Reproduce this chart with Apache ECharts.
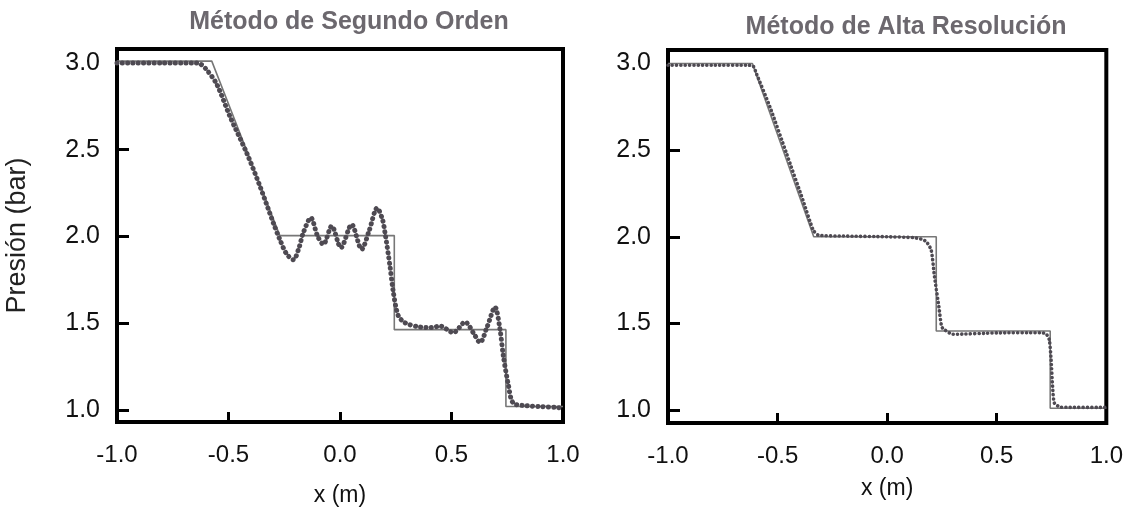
<!DOCTYPE html>
<html>
<head>
<meta charset="utf-8">
<script src="https://cdn.jsdelivr.net/npm/echarts@6/dist/echarts.min.js"></script>
<style>
  html, body { margin: 0; padding: 0; background: #fff; }
  #chart { width: 1126px; height: 512px; }
</style>
</head>
<body>
<div id="chart"></div>
<script>
// panel titles
var titles = ['Método de Segundo Orden', 'Método de Alta Resolución'];
var yTicks = [1.0, 1.5, 2.0, 2.5, 3.0];

// solucion exacta (linea continua)
var exactLeftX  = [-1.0, -0.575, -0.27, 0.2435, 0.2435, 0.744, 0.744, 1.0];
var exactLeftY  = [3.01, 3.01, 2.005, 2.005, 1.463, 1.463, 1.02, 1.02];
var exactRightX = [-1.0, -0.615, -0.335, 0.224, 0.224, 0.744, 0.744, 1.0];
var exactRightY = [3.0, 3.0, 2.0, 2.0, 1.456, 1.456, 1.01, 1.01];

// metodo de segundo orden (puntos)
var segundoX = [-1.0, -0.8, -0.66, -0.628, -0.598, -0.553, -0.493, -0.418, -0.359, -0.299, -0.269, -0.24,
  -0.209, -0.185, -0.165, -0.131, -0.1, -0.075, -0.037, 0.004, 0.052, 0.097, 0.13, 0.167, 0.19, 0.202,
  0.224, 0.239, 0.261, 0.291, 0.359, 0.41, 0.448, 0.508, 0.561, 0.6, 0.628, 0.66, 0.695, 0.717, 0.732,
  0.755, 0.777, 0.837, 0.9, 0.972, 1.0];
var segundoY = [3.0, 3.0, 3.0, 2.995, 2.96, 2.878, 2.69, 2.48, 2.29, 2.078, 1.98, 1.9,
  1.866, 1.93, 2.02, 2.107, 2.0, 1.954, 2.06, 1.935, 2.069, 1.926, 2.03, 2.164, 2.1, 2.02,
  1.83, 1.68, 1.545, 1.503, 1.478, 1.475, 1.484, 1.446, 1.507, 1.44, 1.389, 1.48, 1.593, 1.469, 1.316,
  1.145, 1.04, 1.025, 1.02, 1.015, 1.01];

// metodo de alta resolucion (puntos)
var altaX = [-1.0, -0.8, -0.63, -0.611, -0.596, -0.535, -0.459, -0.384, -0.338, -0.315, -0.2, 0.0,
  0.12, 0.16, 0.179, 0.201, 0.216, 0.236, 0.247, 0.254, 0.3, 0.5, 0.7, 0.725, 0.74, 0.748, 0.755,
  0.763, 0.793, 1.0];
var altaY = [2.99, 2.99, 2.99, 2.985, 2.94, 2.75, 2.48, 2.21, 2.04, 2.01, 2.004, 2.0,
  1.995, 1.985, 1.971, 1.923, 1.77, 1.596, 1.49, 1.471, 1.437, 1.445, 1.446, 1.44, 1.404, 1.29, 1.134,
  1.04, 1.016, 1.015];

function zip(xs, ys) {
  return xs.map(function (x, i) { return [x, ys[i]]; });
}

var font = "'Liberation Sans', Arial, sans-serif";

function xAx(idx, nameGap) {
  return {
    type: 'value', gridIndex: idx, min: -1, max: 1, interval: 0.5,
    name: 'x (m)', nameLocation: 'middle', nameGap: nameGap,
    nameTextStyle: { fontFamily: font, fontSize: 23, color: '#111' },
    axisLine: { show: false, onZero: false },
    axisTick: { show: true, inside: true, length: 10, lineStyle: { color: '#000', width: 3 } },
    axisLabel: { margin: 21, fontFamily: font, fontSize: 24, color: '#111',
      formatter: function (v) { return v.toFixed(1); } },
    splitLine: { show: false }
  };
}

function yAx(idx, min, max, name) {
  return {
    type: 'value', gridIndex: idx, min: min, max: max, position: 'left',
    name: name, nameLocation: 'middle', nameGap: 86,
    nameTextStyle: { fontFamily: font, fontSize: 27, color: '#222' },
    axisLine: { show: false, onZero: false },
    axisTick: { show: true, inside: true, length: 12, customValues: [1.0, 1.5, 2.0, 2.5],
      lineStyle: { color: '#000', width: 3 } },
    axisLabel: { margin: 17, fontFamily: font, fontSize: 25, color: '#111', customValues: yTicks,
      formatter: function (v) { return v.toFixed(1); } },
    splitLine: { show: false }
  };
}

var solidStyle = { color: '#777', width: 1.6 };
var dotStyle = { color: '#4e4a52', width: 5, type: [0.1, 5.2], cap: 'round' };
var fineDotStyle = { color: '#4e4a52', width: 3.6, type: [0.1, 4.2], cap: 'round' };

var option = {
  animation: false,
  backgroundColor: '#fff',
  title: [
    { text: titles[0], left: 344, top: 5, textAlign: 'center',
      textStyle: { fontFamily: font, fontSize: 25, fontWeight: 'bold', color: '#6c686e' } },
    { text: titles[1], left: 901, top: 10, textAlign: 'center',
      textStyle: { fontFamily: font, fontSize: 25, fontWeight: 'bold', color: '#6c686e' } }
  ],
  grid: [
    { left: 117, top: 49, width: 446, height: 375, show: true, borderColor: '#000', borderWidth: 4 },
    { left: 668, top: 50, width: 439, height: 373, show: true, borderColor: '#000', borderWidth: 4 }
  ],
  xAxis: [xAx(0, 62), xAx(1, 54)],
  yAxis: [yAx(0, 0.931, 3.080, 'Presión (bar)'), yAx(1, 0.925, 3.078, '')],
  series: [
    { type: 'line', xAxisIndex: 0, yAxisIndex: 0, showSymbol: false, data: zip(exactLeftX, exactLeftY),
      lineStyle: solidStyle },
    { type: 'line', xAxisIndex: 0, yAxisIndex: 0, showSymbol: false, smooth: 0.3, data: zip(segundoX, segundoY),
      lineStyle: dotStyle },
    { type: 'line', xAxisIndex: 1, yAxisIndex: 1, showSymbol: false, data: zip(exactRightX, exactRightY),
      lineStyle: solidStyle },
    { type: 'line', xAxisIndex: 1, yAxisIndex: 1, showSymbol: false, smooth: 0.2, data: zip(altaX, altaY),
      lineStyle: fineDotStyle }
  ]
};

var myChart = echarts.init(document.getElementById('chart'));
myChart.setOption(option);
</script>
</body>
</html>
